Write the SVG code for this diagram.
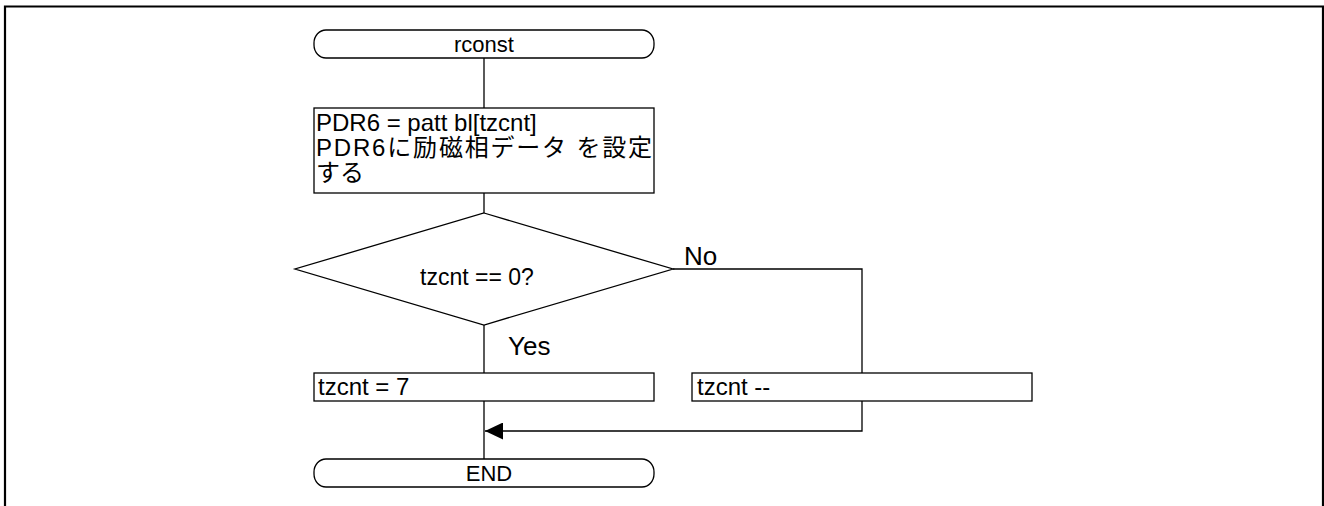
<svg xmlns="http://www.w3.org/2000/svg" width="1324" height="506" viewBox="0 0 1324 506">
<style>
.shape{fill:#fff;stroke:#000;stroke-width:1.3}
.line{fill:none;stroke:#000;stroke-width:1.3}
.t{font-family:"Liberation Sans","Noto Sans CJK JP",Arial,sans-serif;fill:#000}
.term{font-size:22px;text-anchor:middle}
.box{font-size:24px}
.lbl{font-size:26px}
.dec{font-size:23px;text-anchor:middle}
</style>
<defs>
<marker id="arrow" markerUnits="userSpaceOnUse" markerWidth="18" markerHeight="17" viewBox="0 0 18 17" refX="18" refY="8.5" orient="auto">
<path d="M0,0 L18,8.5 L0,17 z" fill="#000"/>
</marker>
</defs>
<rect x="0" y="0" width="1324" height="506" fill="#fff"/>
<path d="M5,520 L5,6.5 L1323,6.5 L1323,520" fill="none" stroke="#000" stroke-width="2.2"/>
<g id="connectors">
<line class="line" x1="484" y1="58" x2="484" y2="108"/>
<line class="line" x1="484" y1="193" x2="484" y2="213"/>
<line class="line" x1="484" y1="325" x2="484" y2="373"/>
<polyline class="line" points="673,269 862,269 862,373"/>
<line class="line" x1="484" y1="401" x2="484" y2="459"/>
<polyline class="line" points="862,401 862,431 485,431" marker-end="url(#arrow)"/>
<text class="t lbl" x="684" y="265">No</text>
<text class="t lbl" x="508" y="355">Yes</text>
</g>
<g id="start">
<rect class="shape" x="314" y="30" width="340" height="28" rx="12" ry="13"/>
<text class="t term" x="484" y="52">rconst</text>
</g>
<g id="set-pdr6">
<rect class="shape" x="314" y="108" width="340" height="85"/>
<text class="t box" x="316" y="131">PDR6 = patt bl[tzcnt]</text>
<text class="t box" x="316" y="156" textLength="336" lengthAdjust="spacing">PDR6に励磁相データ を設定</text>
<text class="t box" x="316" y="181">する</text>
</g>
<g id="decision">
<polygon class="shape" points="484,213 673,269 484,325 295,269"/>
<text class="t dec" x="477" y="285">tzcnt == 0?</text>
</g>
<g id="reset">
<rect class="shape" x="314" y="373" width="340" height="28"/>
<text class="t box" x="318" y="395">tzcnt = 7</text>
</g>
<g id="decrement">
<rect class="shape" x="692" y="373" width="340" height="28"/>
<text class="t box" x="697" y="395">tzcnt --</text>
</g>
<g id="end">
<rect class="shape" x="314" y="459" width="340" height="28" rx="12" ry="13"/>
<text class="t term" x="489" y="481">END</text>
</g>
</svg>
